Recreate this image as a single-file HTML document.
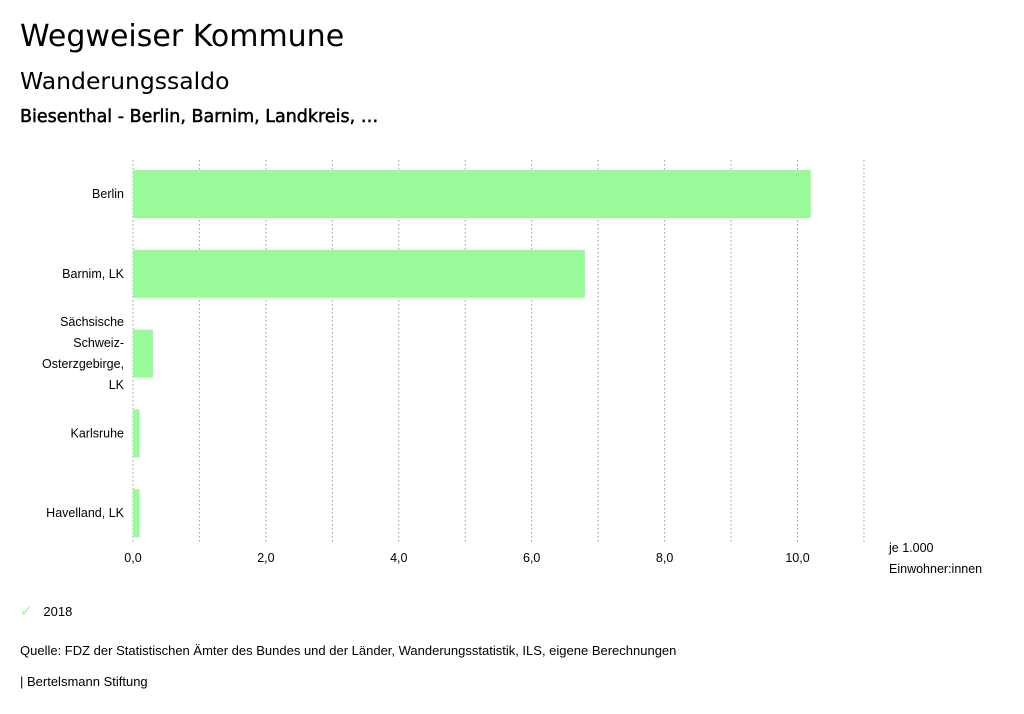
<!DOCTYPE html>
<html><head><meta charset="utf-8"><style>
body{margin:0;width:1024px;height:714px;background:#fff;font-family:"Liberation Sans",sans-serif;color:#000;overflow:hidden;position:relative}
.t{position:absolute;white-space:nowrap}
.d{font-family:"DejaVu Sans",sans-serif}
</style></head><body>
<div class="t d" style="left:20px;top:19px;font-size:30px">Wegweiser Kommune</div>
<div class="t d" style="left:20px;top:67px;font-size:23.5px">Wanderungssaldo</div>
<div class="t d" style="left:20px;top:107px;font-size:17.5px;-webkit-text-stroke:0.5px #000">Biesenthal - Berlin, Barnim, Landkreis, …</div>
<svg id="chart" width="1024" height="600" style="position:absolute;left:0;top:0" font-family="Liberation Sans, sans-serif"></svg>
<div class="t" style="left:20px;top:602px;font-size:13px"><span style="color:#98fa98;font-size:15px">✓</span>&nbsp;&nbsp;&nbsp;2018</div>
<div class="t" style="left:20px;top:643px;font-size:13px">Quelle: FDZ der Statistischen Ämter des Bundes und der Länder, Wanderungsstatistik, ILS, eigene Berechnungen</div>
<div class="t" style="left:20px;top:674px;font-size:13px">| Bertelsmann Stiftung</div>
<script>
const categories=[["Berlin"],["Barnim, LK"],["Sächsische","Schweiz-","Osterzgebirge,","LK"],["Karlsruhe"],["Havelland, LK"]];
const values=[10.2,6.8,0.3,0.1,0.1];
const ticks=[0,2,4,6,8,10];
const gridVals=[1,2,3,4,5,6,7,8,9,10,11];
const svg=document.getElementById('chart');
const NS='http://www.w3.org/2000/svg';
const x0=133,pxPer=66.45,top0=160,bottom0=543;
const X=v=>x0+v*pxPer;
const Y=i=>194+i*79.8;
function mk(t,a){const e=document.createElementNS(NS,t);for(const k in a)e.setAttribute(k,a[k]);svg.appendChild(e);return e;}
gridVals.forEach(v=>{const l=mk('line',{x1:X(v),x2:X(v),y1:top0,y2:bottom0,stroke:'#999','stroke-dasharray':'1.5,2.5'});

});
const ax=mk('line',{x1:x0,x2:x0,y1:top0,y2:bottom0,stroke:'#999','stroke-dasharray':'1.5,2.5'});


values.forEach((v,i)=>{const r=mk('rect',{x:x0,y:Y(i)-24,width:X(v)-x0,height:48,fill:'#98fa98'});


const lines=categories[i];
lines.forEach((s,j)=>{const t=mk('text',{x:124,y:Y(i)+4+(j-(lines.length-1)/2)*21,'text-anchor':'end','font-size':12.5});t.textContent=s;

});});
ticks.forEach(v=>{const t=mk('text',{x:X(v),y:562,'text-anchor':'middle','font-size':12.5});t.textContent=v.toFixed(1).replace('.',',');

});
[['je 1.000',552],['Einwohner:innen',573]].forEach(([s,y])=>{const t=mk('text',{x:889,y:y,'font-size':12.5});t.textContent=s;

});
</script>
</body></html>
